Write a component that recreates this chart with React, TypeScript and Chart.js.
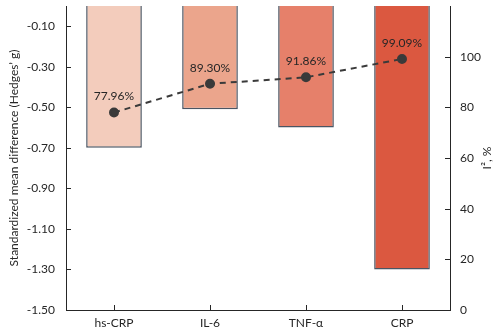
import React, { useEffect, useRef } from "react";
import { Chart, registerables } from "chart.js";

Chart.register(...registerables);

const categories = ["hs-CRP", "IL-6", "TNF-α", "CRP"];
const hedgesG = [-0.70, -0.51, -0.60, -1.30];
const iSquared = [77.96, 89.30, 91.86, 99.09];
const leftTicks = [-1.5, -1.3, -1.1, -0.9, -0.7, -0.5, -0.3, -0.1];
const rightTicks = [0, 20, 40, 60, 80, 100];
const barColors = ["#F3CCBC", "#EBA58C", "#E6806A", "#DB5840"];

const FONT = "Lato, 'Liberation Sans', sans-serif";
const TEXT = "#262626";

const noPad = (s: any) => {
  s.paddingTop = 0;
  s.paddingBottom = 0;
  s.paddingLeft = 0;
  s.paddingRight = 0;
};

const decorPlugin = {
  id: "decor",
  afterDraw(chart: any) {
    const { ctx, chartArea, scales } = chart;
    const x = scales.x;
    const y = scales.y;
    const y1 = scales.y1;
    ctx.save();
    ctx.strokeStyle = "#262626";
    ctx.lineWidth = 1;
    ctx.beginPath();
    // inward tick marks
    leftTicks.forEach((v) => {
      const py = Math.round(y.getPixelForValue(v)) + 0.5;
      ctx.moveTo(chartArea.left, py);
      ctx.lineTo(chartArea.left + 5, py);
    });
    rightTicks.forEach((v) => {
      const py = Math.round(y1.getPixelForValue(v)) + 0.5;
      ctx.moveTo(chartArea.right, py);
      ctx.lineTo(chartArea.right - 5, py);
    });
    categories.forEach((_, i) => {
      const px = Math.round(x.getPixelForValue(i)) + 0.5;
      ctx.moveTo(px, chartArea.bottom);
      ctx.lineTo(px, chartArea.bottom - 5);
    });
    ctx.stroke();

    // value labels over the I² points
    const meta = chart.getDatasetMeta(1);
    ctx.font = `12px ${FONT}`;
    ctx.fillStyle = TEXT;
    ctx.textAlign = "center";
    ctx.textBaseline = "middle";
    meta.data.forEach((pt: any, i: number) => {
      ctx.fillText(iSquared[i].toFixed(2) + "%", pt.x, pt.y - 16);
    });

    // axis titles
    ctx.font = `12px ${FONT}`;
    ctx.save();
    ctx.translate(14, (chartArea.top + chartArea.bottom) / 2);
    ctx.rotate(-Math.PI / 2);
    ctx.fillText("Standardized mean difference (Hedges’ g)", 0, 0);
    ctx.restore();
    ctx.save();
    ctx.translate(487, (chartArea.top + chartArea.bottom) / 2);
    ctx.rotate(-Math.PI / 2);
    ctx.fillText("I², %", 0, 0);
    ctx.restore();
    ctx.restore();
  },
};

export default function App() {
  const ref = useRef<HTMLCanvasElement>(null);

  useEffect(() => {
    if (!ref.current) return;
    const chart = new Chart(ref.current, {
      type: "bar",
      data: {
        labels: categories,
        datasets: [
          {
            type: "bar",
            data: hedgesG,
            yAxisID: "y",
            backgroundColor: barColors,
            borderColor: "#4A5563",
            borderWidth: 1.5,
            barPercentage: 0.58,
            categoryPercentage: 1,
            order: 2,
          },
          {
            type: "line",
            data: iSquared,
            yAxisID: "y1",
            borderColor: "#3A3A3A",
            borderWidth: 2,
            borderDash: [6, 5],
            pointRadius: 4,
            pointBackgroundColor: "#3A3A3A",
            pointBorderColor: "#3A3A3A",
            tension: 0,
            order: 1,
          },
        ],
      },
      options: {
        responsive: false,
        animation: false,
        layout: { padding: { top: 5, left: 0, right: 0, bottom: 0 } },
        plugins: { legend: { display: false }, tooltip: { enabled: false } },
        scales: {
          x: {
            grid: { display: false, drawTicks: false },
            border: { display: true, color: "#262626", width: 1 },
            ticks: { color: TEXT, font: { family: FONT, size: 12 }, padding: 6, maxRotation: 0 },
            afterFit: (s: any) => { s.height = 24; noPad(s); },
          },
          y: {
            position: "left",
            min: -1.5,
            max: 0,
            grid: { display: false, drawTicks: false },
            border: { display: true, color: "#262626", width: 1 },
            ticks: {
              color: TEXT,
              font: { family: FONT, size: 12 },
              padding: 11,
              callback: (v: any) => Number(v).toFixed(2),
            },
            afterBuildTicks: (s: any) => { s.ticks = leftTicks.map((v) => ({ value: v })); },
            afterFit: (s: any) => { s.width = 66; noPad(s); },
          },
          y1: {
            position: "right",
            min: 0,
            max: 120,
            grid: { display: false, drawTicks: false },
            border: { display: true, color: "#262626", width: 1 },
            ticks: { color: TEXT, font: { family: FONT, size: 12 }, padding: 10 },
            afterBuildTicks: (s: any) => { s.ticks = rightTicks.map((v) => ({ value: v })); },
            afterFit: (s: any) => { s.width = 50; noPad(s); },
          },
        },
      },
      plugins: [decorPlugin],
    });
    return () => chart.destroy();
  }, []);

  return (
    <div style={{ position: "fixed", left: 0, top: 0, width: 500, height: 334, background: "#fff" }}>
      <canvas ref={ref} width={500} height={334} style={{ width: 500, height: 334 }} />
    </div>
  );
}
